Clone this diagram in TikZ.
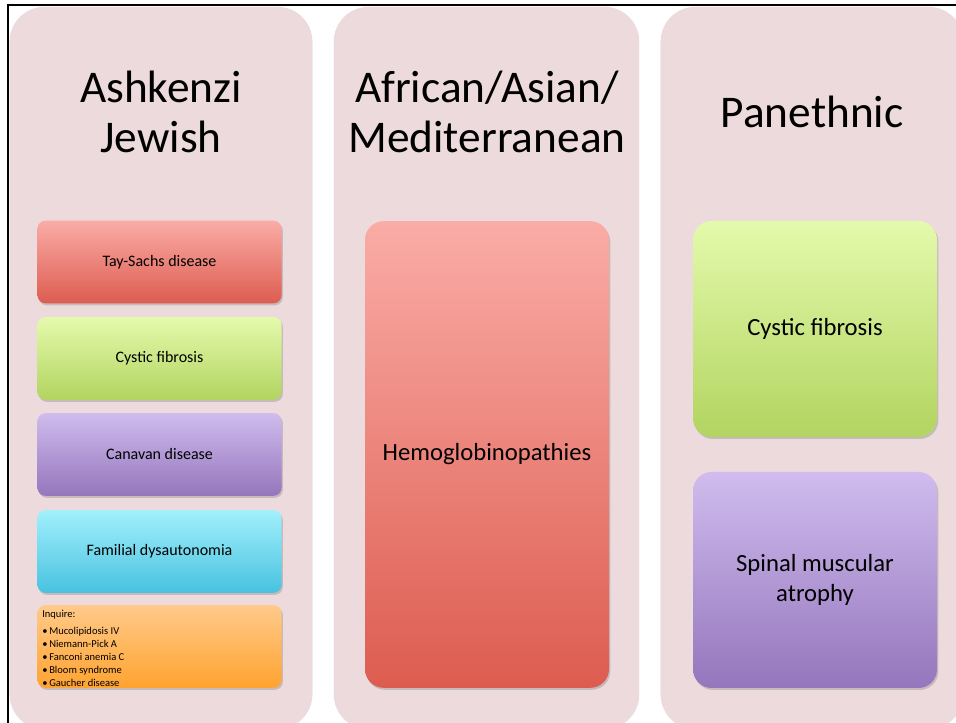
\documentclass[tikz,border=0pt]{standalone}
\usepackage{fontspec}
\setmainfont{Carlito}
\usetikzlibrary{shadows}

\definecolor{colbg}{RGB}{236,218,220}
\definecolor{redtop}{RGB}{250,172,166}
\definecolor{redbot}{RGB}{221,92,80}
\definecolor{greentop}{RGB}{228,250,172}
\definecolor{greenbot}{RGB}{178,212,96}
\definecolor{purptop}{RGB}{208,188,238}
\definecolor{purpbot}{RGB}{148,118,188}
\definecolor{cyantop}{RGB}{162,240,252}
\definecolor{cyanbot}{RGB}{72,194,224}
\definecolor{orgtop}{RGB}{255,202,138}
\definecolor{orgbot}{RGB}{255,163,48}

\begin{document}
\begin{tikzpicture}[x=0.75pt, y=0.75pt,
    col/.style = {fill=colbg, rounded corners=26pt, minimum width=227pt, minimum height=541pt, inner sep=0pt,
                  drop shadow={shadow xshift=0pt, shadow yshift=-1pt, opacity=0.2}},
    title/.style = {font=\fontsize{34}{38}\selectfont, align=center, anchor=base},
    box/.style = {rounded corners=6pt, minimum width=183pt, minimum height=62pt, inner sep=0pt,
                  font=\fontsize{12}{14}\selectfont,
                  drop shadow={shadow xshift=1pt, shadow yshift=-1.5pt, opacity=0.35}},
    bigbox/.style = {box, rounded corners=14pt, font=\fontsize{18.5}{22}\selectfont, align=center},
    red/.style = {top color=redtop, bottom color=redbot},
    green/.style = {top color=greentop, bottom color=greenbot},
    purp/.style = {top color=purptop, bottom color=purpbot},
    cyan/.style = {top color=cyantop, bottom color=cyanbot},
    org/.style = {top color=orgtop, bottom color=orgbot}]
    \clip (0,0) rectangle (956,723);
    % three columns
    \node[col] (c1) at (161,355.5) {};
    \node[col, minimum width=229pt] (c2) at (486.5,355.5) {};
    \node[col] (c3) at (812,355.5) {};
    \node[title] (t1) at (161,570) {Ashkenzi\\Jewish};
    \node[title] (t2) at (487,570) {African/Asian/\\Mediterranean};
    \node[title] (t3) at (812,595) {Panethnic};
    % left column
    \node[box, red]   (tay) at (159.5,461)   {Tay-Sachs disease};
    \node[box, green] (cf1) at (159.5,364.5) {Cystic fibrosis};
    \node[box, purp]  (can) at (159.5,268.5) {Canavan disease};
    \node[box, cyan]  (fam) at (159.5,171.5) {Familial dysautonomia};
    \node[box, org]   (inq) at (159.5,76.5)  {};
    \node[anchor=base west, align=left, inner sep=0pt, font=\fontsize{7.9}{9.9}\selectfont]
        (inqtxt) at (42,36) {Inquire:\\[2.5pt]
        \textbullet\,Mucolipidosis IV\\
        \textbullet\,Niemann-Pick A\\
        \textbullet\,Fanconi anemia C\\
        \textbullet\,Bloom syndrome\\
        \textbullet\,Gaucher disease};
    % middle column
    \node[bigbox, red, minimum height=350pt] (hemo) at (487,268.5) {Hemoglobinopathies};
    % right column
    \node[bigbox, green, minimum height=162pt] (cf3) at (815,394) {Cystic fibrosis};
    \node[bigbox, purp, minimum height=162pt] (sma) at (815,143) {Spinal muscular\\atrophy};
    % frame
    \draw[line width=1.6pt] (8,-5) |- (960,718);
\end{tikzpicture}
\end{document}
